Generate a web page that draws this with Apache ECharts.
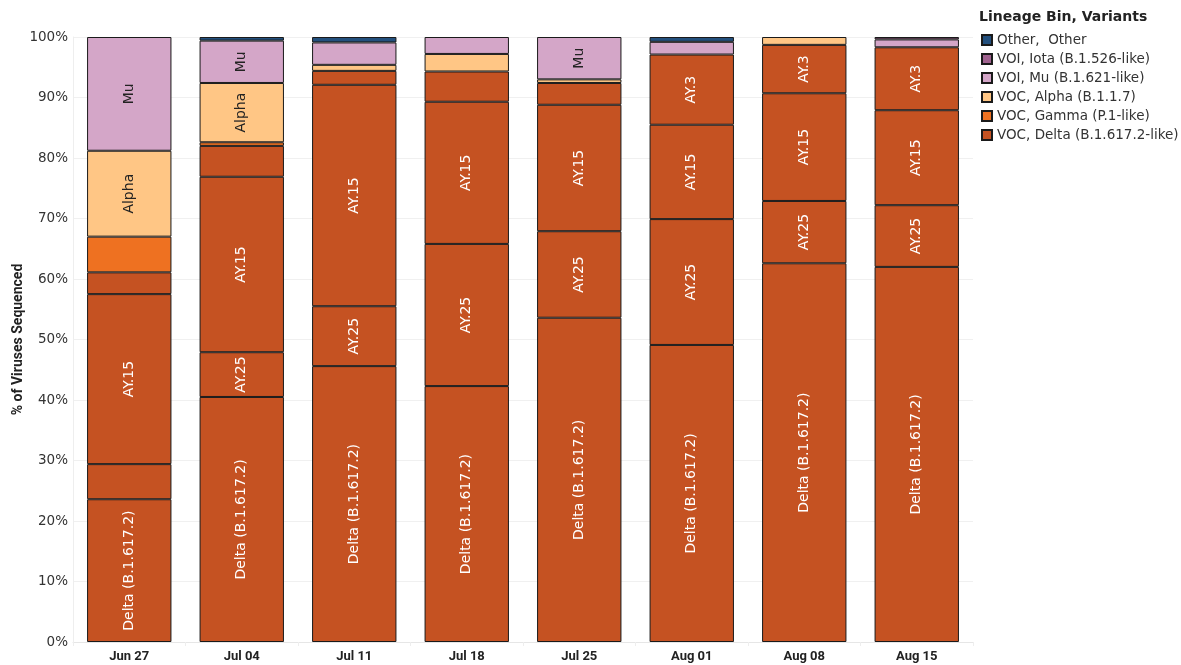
<!DOCTYPE html>
<html>
<head>
<meta charset="utf-8">
<script src="https://cdn.jsdelivr.net/npm/echarts@6/dist/echarts.min.js"></script>
<style>
html,body{margin:0;padding:0;background:#fff;}
#chart{width:1181px;height:665px;}
</style>
</head>
<body>
<div id="chart"></div>
<script>
const categories = ['Jun 27','Jul 04','Jul 11','Jul 18','Jul 25','Aug 01','Aug 08','Aug 15'];
const yTicks = [0,10,20,30,40,50,60,70,80,90,100];
// Delta sub-lineages (VOC, Delta (B.1.617.2-like))
const deltaB16172 = [23.6, 40.5, 45.6, 42.3, 53.6, 49.1, 62.6, 62.0];
const ay25 = [5.8, 7.4, 9.9, 23.5, 14.3, 20.8, 10.3, 10.2];
const ay15 = [28.1, 29.0, 36.6, 23.5, 20.9, 15.6, 17.8, 15.7];
const ay3 = [3.6, 5.1, 2.3, 5.0, 3.6, 11.6, 8.0, 10.4];
// other lineage bins
const gamma = [5.9, 0.6, null, null, null, null, null, null];
const alpha = [14.2, 9.8, 1.0, 2.9, 0.6, null, 1.3, null];
const mu = [18.8, 7.0, 3.7, 2.8, 7.0, 2.1, null, 1.3];
const iota = [null, null, null, null, null, null, null, 0.4];
const other = [null, 0.6, 0.9, null, null, 0.8, null, null];

const legendNames = ['Other,  Other','VOI, Iota (B.1.526-like)','VOI, Mu (B.1.621-like)','VOC, Alpha (B.1.1.7)','VOC, Gamma (P.1-like)','VOC, Delta (B.1.617.2-like)'];

const colors = {
  delta: '#c55222', gamma: '#ee7121', alpha: '#ffc685', mu: '#d4a6c8', iota: '#a0628f', other: '#23507e'
};

const seriesDefs = [
  {name: legendNames[5], data: deltaB16172, color: colors.delta, label: 'Delta (B.1.617.2)', txt: '#ffffff'},
  {name: legendNames[5], data: ay25, color: colors.delta, label: 'AY.25', txt: '#ffffff'},
  {name: legendNames[5], data: ay15, color: colors.delta, label: 'AY.15', txt: '#ffffff'},
  {name: legendNames[5], data: ay3, color: colors.delta, label: 'AY.3', txt: '#ffffff'},
  {name: legendNames[4], data: gamma, color: colors.gamma, label: 'Gamma', txt: '#222'},
  {name: legendNames[3], data: alpha, color: colors.alpha, label: 'Alpha', txt: '#222'},
  {name: legendNames[2], data: mu, color: colors.mu, label: 'Mu', txt: '#222'},
  {name: legendNames[1], data: iota, color: colors.iota, label: 'Iota', txt: '#222'},
  {name: legendNames[0], data: other, color: colors.other, label: 'Other', txt: '#fff'}
];

const series = seriesDefs.map(d => ({
  type: 'bar',
  name: d.name,
  stack: 'total',
  data: d.data,
  barCategoryGap: '25%',
  itemStyle: {color: d.color, borderColor: '#1a1a1a', borderWidth: 1},
  label: {
    show: true,
    position: 'inside',
    rotate: 90,
    color: d.txt,
    fontFamily: 'DejaVu Sans',
    fontSize: 14,
    formatter: p => (p.value != null && p.value >= 6.5) ? d.label : ''
  },
  emphasis: {disabled: true}
}));

const chart = echarts.init(document.getElementById('chart'), null, {renderer: 'canvas'});
chart.setOption({
  animation: false,
  backgroundColor: '#fff',
  color: [colors.delta, colors.gamma, colors.alpha, colors.mu, colors.iota, colors.other],
  graphic: [{
    type: 'text', left: 979, top: 10,
    style: {text: 'Lineage Bin, Variants', font: 'bold 14px "DejaVu Sans"', fill: '#222'}
  }],
  legend: {
    orient: 'vertical',
    left: 976, top: 27,
    itemWidth: 10, itemHeight: 10, itemGap: 3,
    icon: 'rect',
    selectedMode: false,
    data: legendNames,
    textStyle: {fontFamily: 'DejaVu Sans', fontSize: 13.5, lineHeight: 16, color: '#333'}
  },
  grid: {left: 73, right: 208, top: 37, bottom: 23, outerBoundsMode: 'none'},
  xAxis: {
    type: 'category',
    data: categories,
    axisLine: {show: true, lineStyle: {color: '#e6e6e6'}},
    axisTick: {show: true, length: 4, lineStyle: {color: '#eeeeee'}},
    axisLabel: {color: '#222', fontFamily: 'Roboto', fontWeight: 'bold', fontSize: 13, margin: 8}
  },
  yAxis: {
    type: 'value',
    min: 0, max: 100, interval: 10,
    name: '% of Viruses Sequenced',
    nameLocation: 'middle',
    nameGap: 48,
    nameMoveOverlap: false,
    nameRotate: 90,
    nameTextStyle: {fontFamily: 'Roboto', fontWeight: 'bold', fontSize: 14, color: '#222'},
    axisLine: {show: true, lineStyle: {color: '#eeeeee'}},
    axisTick: {show: false},
    splitLine: {show: true, lineStyle: {color: '#f0f0f0'}},
    axisLabel: {
      color: '#333', fontFamily: 'DejaVu Sans', fontSize: 13.5, margin: 5,
      formatter: v => yTicks.includes(v) ? v + '%' : ''
    }
  },
  series: series
});
</script>
</body>
</html>
